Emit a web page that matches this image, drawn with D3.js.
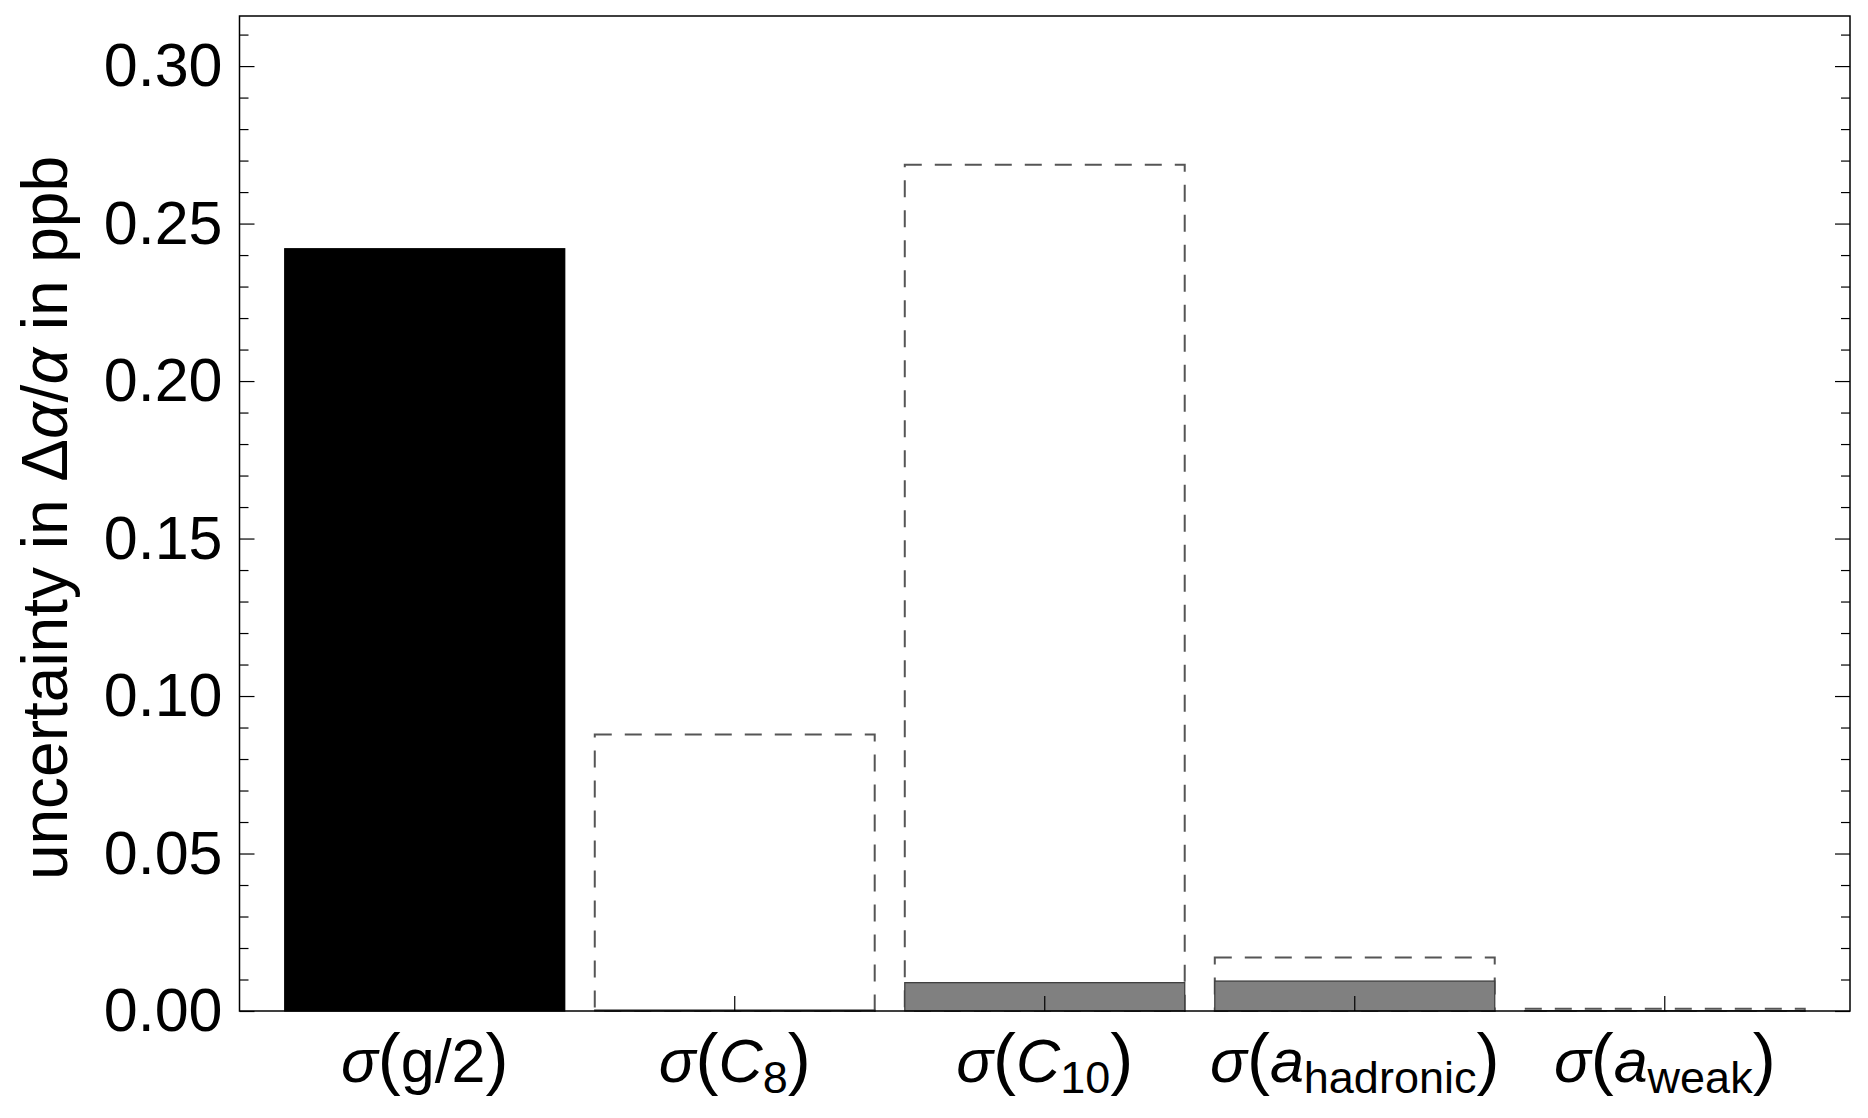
<!DOCTYPE html>
<html>
<head>
<meta charset="utf-8">
<script src="https://cdn.jsdelivr.net/npm/d3@7"></script>
<style>
  body { margin: 0; background: #fff; }
  svg text { font-family: "Liberation Sans", Arial, sans-serif; fill: #000; }
</style>
</head>
<body>
<svg id="chart" width="1868" height="1118"></svg>
<script>
/* values, in ppb */
var categories = ["g/2", "C8", "C10", "ahadronic", "aweak"];
var solidValues = [0.242, 0.0003, 0.0090, 0.0095, 0.0001];
var dashedValues = [null, 0.0878, 0.2687, 0.0170, 0.0007];
var majorTicks = [0, 0.05, 0.10, 0.15, 0.20, 0.25, 0.30];
var minorTicks = [0.01, 0.02, 0.03, 0.04, 0.06, 0.07, 0.08, 0.09, 0.11, 0.12, 0.13, 0.14,
                  0.16, 0.17, 0.18, 0.19, 0.21, 0.22, 0.23, 0.24, 0.26, 0.27, 0.28, 0.29, 0.31];
/* label pieces: [text, italic, subscript] */
var labelParts = [
    [["σ", true, false], ["(", false, false], ["g/2", false, false], [")", false, false]],
    [["σ", true, false], ["(", false, false], ["C", true, false], ["8", false, true], [")", false, false]],
    [["σ", true, false], ["(", false, false], ["C", true, false], ["10", false, true], [")", false, false]],
    [["σ", true, false], ["(", false, false], ["a", true, false], ["hadronic", false, true], [")", false, false]],
    [["σ", true, false], ["(", false, false], ["a", true, false], ["weak", false, true], [")", false, false]]
];

var frameL = 239.5, frameR = 1850, frameT = 16, frameB = 1011;

var svg = d3.select("#chart");

var y = d3.scaleLinear().domain([0, 0.3159]).range([frameB, frameT]);
var x = d3.scaleBand().domain(categories).range([frameL, frameR])
    .paddingInner(0.097).paddingOuter(0.146);

/* dashed outlines behind the filled bars */
svg.append("g").selectAll("rect")
    .data(categories.filter(function(c, i){ return dashedValues[i] != null; }))
    .enter().append("rect")
    .attr("x", function(c){ return x(c); })
    .attr("width", x.bandwidth())
    .attr("y", function(c){ return y(dashedValues[categories.indexOf(c)]); })
    .attr("height", function(c){ return frameB - y(dashedValues[categories.indexOf(c)]); })
    .attr("fill", "none")
    .attr("stroke", "#555")
    .attr("stroke-width", 2)
    .attr("stroke-dasharray", "17,13");

svg.append("g").selectAll("rect")
    .data(categories)
    .enter().append("rect")
    .attr("x", function(c){ return x(c); })
    .attr("width", x.bandwidth())
    .attr("y", function(c, i){ return y(solidValues[i]); })
    .attr("height", function(c, i){ return frameB - y(solidValues[i]); })
    .attr("fill", function(c, i){ return i == 0 ? "#000" : "#808080"; })
    .attr("stroke", function(c, i){ return i == 0 ? "#000" : "#404040"; })
    .attr("stroke-width", 1.3);

/* left axis: major with labels, minor without */
var yl = svg.append("g").attr("transform", "translate(" + frameL + ",0)")
    .call(d3.axisLeft(y).tickValues(majorTicks).tickFormat(d3.format(".2f"))
          .tickSizeInner(-15).tickSizeOuter(0).tickPadding(17));
yl.selectAll("text").attr("font-size", 61).attr("font-family", null);
yl.select(".domain").remove();

svg.append("g").attr("transform", "translate(" + frameL + ",0)")
    .call(d3.axisLeft(y).tickValues(minorTicks).tickFormat("")
          .tickSizeInner(-9).tickSizeOuter(0))
    .select(".domain").remove();

svg.append("g").attr("transform", "translate(" + frameR + ",0)")
    .call(d3.axisRight(y).tickValues(majorTicks).tickFormat("")
          .tickSizeInner(-15).tickSizeOuter(0))
    .select(".domain").remove();

svg.append("g").attr("transform", "translate(" + frameR + ",0)")
    .call(d3.axisRight(y).tickValues(minorTicks).tickFormat("")
          .tickSizeInner(-9).tickSizeOuter(0))
    .select(".domain").remove();

/* bottom ticks at bar centres */
svg.append("g").attr("transform", "translate(0," + frameB + ")")
    .call(d3.axisBottom(x).tickFormat("").tickSizeInner(-15).tickSizeOuter(0))
    .select(".domain").remove();

svg.selectAll(".tick line").attr("stroke", "#000").attr("stroke-width", 1.2);

/* frame */
svg.append("rect")
    .attr("x", frameL).attr("y", frameT)
    .attr("width", frameR - frameL).attr("height", frameB - frameT)
    .attr("fill", "none").attr("stroke", "#000").attr("stroke-width", 1.5);

/* category labels */
var lab = svg.append("g").selectAll("text")
    .data(categories)
    .enter().append("text")
    .attr("x", function(c){ return x(c) + x.bandwidth() / 2; })
    .attr("y", 1082)
    .attr("text-anchor", "middle")
    .attr("font-size", 61);

lab.each(function(c, i){
    var t = d3.select(this);
    var shifted = false;
    labelParts[i].forEach(function(p){
        var s = t.append("tspan").text(p[0]);
        if (p[1]) s.attr("font-style", "italic");
        if (p[0] == "(" || p[0] == ")") s.attr("font-size", 69);
        if (p[2]) {
            s.attr("font-size", 45).attr("dy", 11);
            shifted = true;
        } else if (shifted) {
            s.attr("dy", -11);
            shifted = false;
        }
    });
});

/* y axis title */
var yt = svg.append("text")
    .attr("transform", "translate(67,518) rotate(-90)")
    .attr("text-anchor", "middle")
    .attr("font-size", 64);
yt.append("tspan").text("uncertainty in Δ");
yt.append("tspan").text("α").attr("font-style", "italic");
yt.append("tspan").text("/");
yt.append("tspan").text("α").attr("font-style", "italic");
yt.append("tspan").text(" in ppb");
</script>
</body>
</html>
